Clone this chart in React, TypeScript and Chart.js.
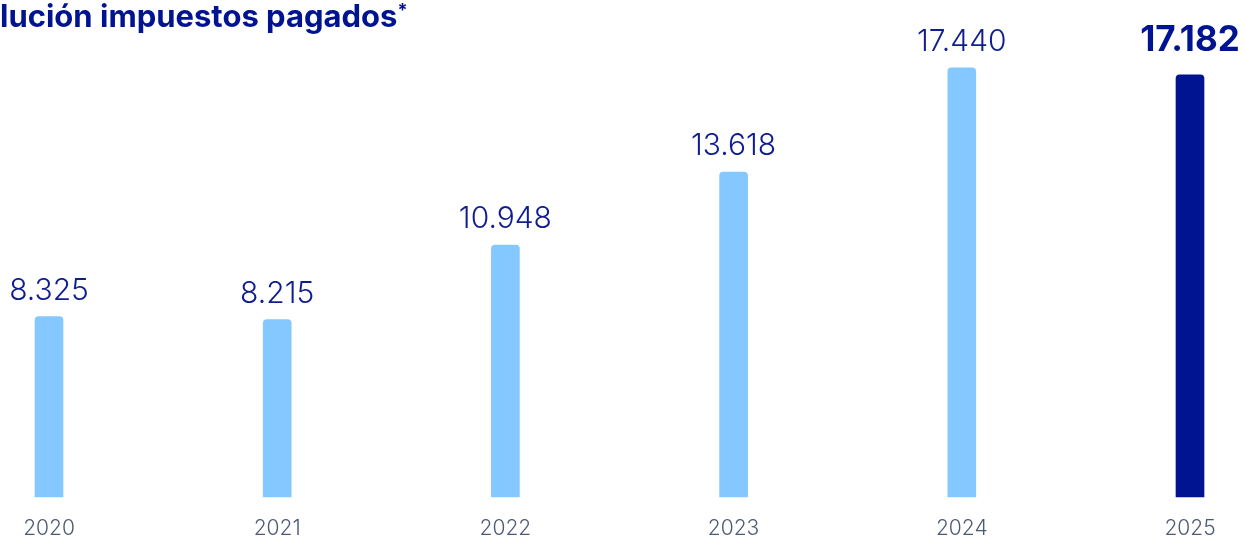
import React, { useEffect, useRef } from "react";
import { Chart, registerables } from "chart.js";

Chart.register(...registerables);

const years = ["2020", "2021", "2022", "2023", "2024", "2025"];
const taxesPaid = [8325, 8215, 10948, 13618, 17440, 17182];
const titleText = "lución impuestos pagados";

const LIGHT = "#85C8FF";
const DARK = "#001391";
const NAVY = "#0F1D8F";
const GREY = "#4E5A74";
const Y_MIN = 1713;
const Y_MAX = 18459;

function fmt(v: number): string {
  const s = String(Math.round(v));
  return s.replace(/\B(?=(\d{3})+(?!\d))/g, ".");
}

const valueLabels = {
  id: "valueLabels",
  afterDatasetsDraw(chart: any) {
    const ctx = chart.ctx;
    const meta = chart.getDatasetMeta(0);
    const data = chart.data.datasets[0].data as number[];
    const xs = chart.scales.x;
    const bottom = chart.chartArea.bottom;
    ctx.save();
    ctx.textAlign = "center";
    ctx.textBaseline = "alphabetic";
    meta.data.forEach((bar: any, i: number) => {
      const last = i === data.length - 1;
      ctx.fillStyle = last ? DARK : NAVY;
      ctx.font = last ? "700 35px Inter" : "300 30px Inter";
      ctx.fillText(fmt(data[i]), bar.x, bar.y - (last ? 24 : 17));
    });
    ctx.fillStyle = GREY;
    ctx.font = "300 21px Inter";
    (chart.data.labels as string[]).forEach((lab: string, i: number) => {
      ctx.fillText(lab, xs.getPixelForValue(i), bottom + 38);
    });
    ctx.restore();
  },
};

export default function App() {
  const ref = useRef<HTMLCanvasElement | null>(null);
  useEffect(() => {
    if (!ref.current) return;
    const chart = new Chart(ref.current, {
      type: "bar",
      data: {
        labels: years,
        datasets: [
          {
            data: taxesPaid,
            base: Y_MIN,
            backgroundColor: taxesPaid.map((_, i) => (i === taxesPaid.length - 1 ? DARK : LIGHT)),
            barThickness: 28,
            borderRadius: 4,
            borderSkipped: "bottom",
            clip: false as any,
          } as any,
        ],
      },
      options: {
        animation: false,
        responsive: true,
        maintainAspectRatio: false,
        layout: { padding: { left: 49, right: 55, top: 40, bottom: 40 } },
        plugins: { legend: { display: false }, tooltip: { enabled: false }, title: { display: false } },
        scales: {
          x: {
            type: "category",
            offset: false,
            display: false,
          },
          y: {
            display: false,
            min: Y_MIN,
            max: Y_MAX,
          },
        },
      },
      plugins: [valueLabels],
    });
    return () => chart.destroy();
  }, []);

  return (
    <div style={{ position: "fixed", left: 0, top: 0, width: 1245, height: 537, background: "#fff" }}>
      <div
        style={{
          position: "absolute",
          left: 0,
          top: -3,
          fontFamily: "Inter",
          fontWeight: 700,
          fontSize: 31,
          color: DARK,
          whiteSpace: "nowrap",
          zIndex: 2,
        }}
      >
        {titleText}
        <sup style={{ fontSize: 18 }}>*</sup>
      </div>
      <canvas ref={ref} />
    </div>
  );
}
